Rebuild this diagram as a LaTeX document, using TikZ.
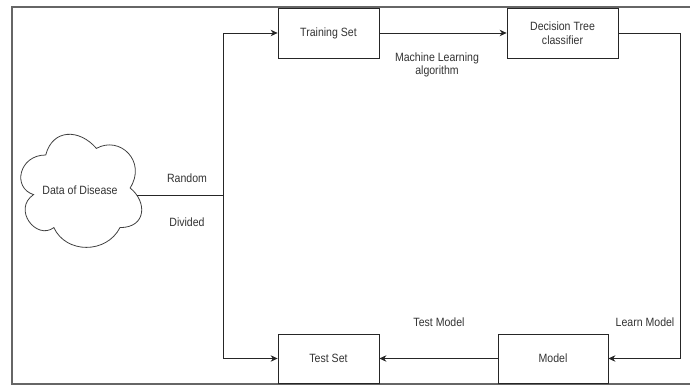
\documentclass[tikz,border=0pt]{standalone}
\usepackage{fontspec}
\setmainfont{Liberation Sans}
\newfontfamily\condfont[FakeStretch=0.88]{Liberation Sans}
\usetikzlibrary{arrows.meta}
\begin{document}
\begin{tikzpicture}[x=1pt,y=-1pt,
  txt/.style={font=\condfont\fontsize{12}{13.5}\selectfont, text=black!80, align=center},
  box/.style={txt, draw=black!85, line width=0.8pt, minimum width=101pt, minimum height=50pt, inner sep=0pt},
  lbl/.style={txt, inner sep=0pt},
  conn/.style={line width=0.8pt, draw=black!85, -{Stealth[length=7pt,width=6.5pt]}},
  plain/.style={line width=0.8pt, draw=black!85}]
\useasboundingbox (0,0) rectangle (690,387);
\draw[line width=1.4pt, black!60] (695,7) -- (12,7) -- (12,384) -- (695,384);
% nodes
\node[box] (train) at (328.5,33) {Training Set};
\node[box, minimum width=111pt] (dtc) at (562.5,33) {Decision Tree\\classifier};
\node[box, minimum width=110pt, minimum height=49pt] (model) at (553,358.5) {Model};
\node[box, minimum height=49pt] (test) at (328.5,358.5) {Test Set};
% cloud
\draw[line width=0.8pt, draw=black!75]
  (45.75,155) .. controls (18.75,155) and (12,188) .. (33.6,194.6)
  .. controls (12,209.12) and (36.3,240.8) .. (53.85,227.6)
  .. controls (66,254) and (106.5,254) .. (120,227.6)
  .. controls (147,227.6) and (147,201.2) .. (130.1,188)
  .. controls (147,161.6) and (120,135.2) .. (96.4,148.4)
  .. controls (79.5,128.6) and (52.5,128.6) .. (45.75,155) -- cycle;
\node[lbl] (cloud) at (80,190) {Data of Disease};
\coordinate (cloudR) at (136.5,195);
\coordinate (sx) at (223,0);
\coordinate (rx) at (680,0);
% connectors
\draw[plain] (cloudR) -- (cloudR -| sx) coordinate (split);
\draw[conn] (split) |- (train.west);
\draw[conn] (split) |- (test.west);
\draw[conn] (train) -- (dtc);
\draw[conn] (dtc.east) -- (dtc.east -| rx) |- (model.east);
\draw[conn] (model) -- (test);
% labels
\node[lbl] (ml) at (437,65) {Machine Learning\\algorithm};
\node[lbl] (rand) at (187,178) {Random};
\node[lbl] (div) at (187,222) {Divided};
\node[lbl] (tm) at (439,322) {Test Model};
\node[lbl] (lm) at (645,322) {Learn Model};
\end{tikzpicture}
\end{document}
